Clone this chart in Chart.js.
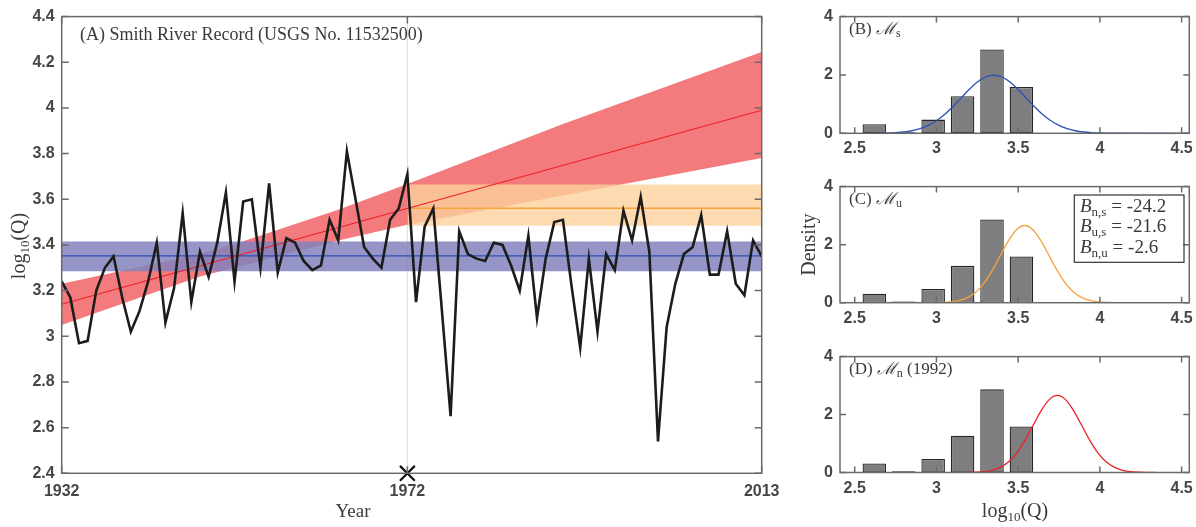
<!DOCTYPE html>
<html>
<head>
<meta charset="utf-8">
<script src="https://cdn.jsdelivr.net/npm/chart.js@4.4.1/dist/chart.umd.min.js"></script>
<style>
  html, body { margin: 0; padding: 0; background: #fff; width: 1196px; height: 527px; overflow: hidden; }
  canvas { position: absolute; }
</style>
</head>
<body>
<canvas id="main" width="800" height="527" style="left:0;top:0"></canvas>
<canvas id="pB" width="430" height="170" style="left:780px;top:0"></canvas>
<canvas id="pC" width="430" height="170" style="left:780px;top:170px"></canvas>
<canvas id="pD" width="430" height="187" style="left:780px;top:340px"></canvas>
<script>
// ---- Smith River annual peak record, log10(Q) ----
const years = [1932,1933,1934,1935,1936,1937,1938,1939,1940,1941,1942,1943,1944,1945,1946,1947,1948,1949,1950,1951,
  1952,1953,1954,1955,1956,1957,1958,1959,1960,1961,1962,1963,1964,1965,1966,1967,1968,1969,1970,1971,
  1972,1973,1974,1975,1976,1977,1978,1979,1980,1981,1982,1983,1984,1985,1986,1987,1988,1989,1990,1991,
  1992,1993,1994,1995,1996,1997,1998,1999,2000,2001,2002,2003,2004,2005,2006,2007,2008,2009,2010,2011,2012,2013];
const logQ = [3.24,3.17,2.97,2.98,3.20,3.30,3.35,3.17,3.02,3.11,3.24,3.41,3.06,3.21,3.54,3.15,3.37,3.26,3.41,3.63,
  3.24,3.59,3.60,3.30,3.67,3.28,3.43,3.41,3.33,3.29,3.31,3.51,3.42,3.81,3.60,3.39,3.34,3.30,3.51,3.56,
  3.71,3.15,3.48,3.56,3.11,2.65,3.46,3.36,3.34,3.33,3.41,3.40,3.31,3.20,3.44,3.08,3.34,3.50,3.51,3.22,
  2.95,3.34,3.02,3.36,3.29,3.55,3.42,3.61,3.37,2.54,3.04,3.23,3.36,3.39,3.53,3.27,3.27,3.46,3.23,3.18,3.42,3.35];

// stationary model M_s (mean and band)
const sYears = [1932, 2013];
const sMean  = [3.352, 3.352];
const sUpper = [3.415, 3.415];
const sLower = [3.285, 3.285];

// model M_u, held from the change year onward
const uYears = [1972, 2013];
const uMean  = [3.561, 3.561];
const uUpper = [3.665, 3.665];
const uLower = [3.484, 3.484];

// trend model M_n
const nYears = [1932, 2013];
const nMean  = [3.14, 3.99];
const nBandYears = [1932, 1948, 1953, 1964, 1972, 1990, 2013];
const nUpper = [3.23, 3.36, 3.416, 3.554, 3.667, 3.93, 4.245];
const nLower = [3.049, 3.262, 3.31, 3.419, 3.488, 3.617, 3.781];

const changeYear = [1972];
const changeMark = [2.4];

const xTickYears = [1932, 1972, 2013];
const yTicksMain = [2.4, 2.6, 2.8, 3.0, 3.2, 3.4, 3.6, 3.8, 4.0, 4.2, 4.4];

// ---- density panels ----
const binCenters = [2.62, 2.80, 2.98, 3.16, 3.34, 3.52];
const binDensity = [0.31, 0.04, 0.47, 1.27, 2.87, 1.59];
const histTicksX = [2.5, 3, 3.5, 4, 4.5];
const histTicksY = [0, 2, 4];

const pdfSx = [2.65,2.70,2.75,2.80,2.85,2.90,2.95,3.00,3.05,3.10,3.15,3.20,3.25,3.30,3.35,
  3.40,3.45,3.50,3.55,3.60,3.65,3.70,3.75,3.80,3.85,3.90,3.95,4.00,4.05,4.10,4.60];
const pdfSy = [0.004,0.010,0.022,0.045,0.087,0.158,0.269,0.430,0.646,0.911,1.207,1.502,1.756,1.929,1.990,
  1.929,1.756,1.502,1.207,0.911,0.646,0.430,0.269,0.158,0.087,0.045,0.022,0.010,0.004,0.001,0];

const pdfUx = [2.99,3.04,3.09,3.14,3.19,3.24,3.29,3.34,3.39,3.44,3.49,3.54,3.59,3.64,
  3.69,3.74,3.79,3.84,3.89,3.94,3.99,4.04,4.09,4.14,4.19,4.24,4.29,4.34];
const pdfUy = [0.003,0.010,0.030,0.076,0.175,0.360,0.663,1.094,1.613,2.130,2.516,2.660,2.516,2.130,
  1.613,1.094,0.663,0.360,0.175,0.076,0.030,0.010,0.003,0.001,0,0,0,0];

const pdfNx = [3.19,3.24,3.29,3.34,3.39,3.44,3.49,3.54,3.59,3.64,3.69,3.74,
  3.79,3.84,3.89,3.94,3.99,4.04,4.09,4.14,4.19,4.24,4.29,4.34];
const pdfNy = [0.003,0.010,0.030,0.076,0.175,0.360,0.663,1.094,1.613,2.130,2.516,2.660,
  2.516,2.130,1.613,1.094,0.663,0.360,0.175,0.076,0.030,0.010,0.003,0.001];

const bayesLines = [
  { sub: 'n,s', val: '-24.2' },
  { sub: 'u,s', val: '-21.6' },
  { sub: 'n,u', val: '-2.6' }
];

// ---- shared styling ----
const SANS = "'Liberation Sans', Arial, sans-serif";
const SERIF = "'Liberation Serif', 'DejaVu Serif', serif";
const TXT = '#3a3a3a';
Chart.defaults.font.family = SANS;
Chart.defaults.font.size = 16;
Chart.defaults.font.weight = 'bold';
Chart.defaults.color = '#464646';

const pt = (xs, ys) => xs.map((x, i) => ({ x: x, y: ys[i] }));

function drawRuns(ctx, runs, x, y, align) {
  let total = 0;
  runs.forEach(r => { ctx.font = r.font; r.w = ctx.measureText(r.text).width; total += r.w; });
  let cx = align === 'center' ? x - total / 2 : (align === 'right' ? x - total : x);
  ctx.textAlign = 'left';
  runs.forEach(r => { ctx.font = r.font; ctx.fillText(r.text, cx, y + (r.dy || 0)); cx += r.w; });
}

// box around the plot area with inward ticks on all four sides
function boxAxes(len) {
  return {
    id: 'boxAxes',
    afterDatasetsDraw(chart) {
      const { ctx, chartArea: a, scales } = chart;
      ctx.save();
      ctx.strokeStyle = '#6a6a6a';
      ctx.lineWidth = 1.5;
      ctx.strokeRect(a.left, a.top, a.right - a.left, a.bottom - a.top);
      ctx.beginPath();
      scales.x.ticks.forEach(t => {
        const p = scales.x.getPixelForValue(t.value);
        ctx.moveTo(p, a.bottom); ctx.lineTo(p, a.bottom - len);
        ctx.moveTo(p, a.top); ctx.lineTo(p, a.top + len);
      });
      scales.y.ticks.forEach(t => {
        const p = scales.y.getPixelForValue(t.value);
        ctx.moveTo(a.left, p); ctx.lineTo(a.left + len, p);
        ctx.moveTo(a.right, p); ctx.lineTo(a.right - len, p);
      });
      ctx.stroke();
      ctx.restore();
    }
  };
}

// ---- panel A ----
const changeLine = {
  id: 'changeLine',
  beforeDatasetsDraw(chart) {
    const { ctx, chartArea: a, scales } = chart;
    const x = scales.x.getPixelForValue(changeYear[0]);
    ctx.save();
    ctx.strokeStyle = '#dcdcdc';
    ctx.lineWidth = 1;
    ctx.beginPath(); ctx.moveTo(x, a.top); ctx.lineTo(x, a.bottom); ctx.stroke();
    ctx.restore();
  }
};

const mainText = {
  id: 'mainText',
  afterDraw(chart) {
    const ctx = chart.ctx;
    ctx.save();
    ctx.fillStyle = TXT;
    ctx.textBaseline = 'alphabetic';
    drawRuns(ctx, [{ text: '(A) Smith River Record (USGS No. 11532500)', font: '18px ' + SERIF }], 80, 40, 'left');
    drawRuns(ctx, [{ text: 'Year', font: '19px ' + SERIF }], 353, 516.5, 'center');
    ctx.translate(25, 246);
    ctx.rotate(-Math.PI / 2);
    drawRuns(ctx, [
      { text: 'log', font: '20px ' + SERIF },
      { text: '10', font: '13px ' + SERIF, dy: 4 },
      { text: '(Q)', font: '20px ' + SERIF }
    ], 0, 0, 'center');
    ctx.restore();
  }
};

const lineDs = (data, color, width, order) => ({
  data: data, borderColor: color, borderWidth: width, pointRadius: 0, fill: false, order: order, tension: 0
});
const bandDs = (data, color, fill, order) => ({
  data: data, borderWidth: 0, borderColor: 'rgba(0,0,0,0)', backgroundColor: color, pointRadius: 0,
  fill: fill, order: order, tension: 0
});

new Chart(document.getElementById('main'), {
  type: 'line',
  data: {
    datasets: [
      lineDs(pt(years, logQ), '#1c1c1c', 2.6, 0),
      { data: pt(changeYear, changeMark), showLine: false, pointStyle: 'crossRot', pointRadius: 10.5,
        pointBorderWidth: 2.2, pointBorderColor: '#111', pointBackgroundColor: '#111', clip: false, order: 0 },
      lineDs(pt(nYears, nMean), '#ee2026', 1.1, 1),
      lineDs(pt(uYears, uMean), '#f5a33c', 1.6, 1),
      lineDs(pt(sYears, sMean), '#2f4fb5', 1.3, 1),
      bandDs(pt(sYears, sUpper), 'rgba(131,131,190,0.85)', '+1', 5),
      bandDs(pt(sYears, sLower), 'rgba(0,0,0,0)', false, 5),
      bandDs(pt(uYears, uUpper), 'rgba(252,209,156,0.8)', '+1', 6),
      bandDs(pt(uYears, uLower), 'rgba(0,0,0,0)', false, 6),
      bandDs(pt(nBandYears, nUpper), 'rgba(236,52,56,0.65)', '+1', 7),
      bandDs(pt(nBandYears, nLower), 'rgba(0,0,0,0)', false, 7)
    ]
  },
  options: {
    responsive: false, animation: false, devicePixelRatio: 1,
    layout: { padding: { left: 0, right: 38.3, top: 13.3, bottom: 0 } },
    scales: {
      x: {
        type: 'linear', min: 1932, max: 2013,
        grid: { display: false, drawTicks: false }, border: { display: false },
        afterBuildTicks: s => { s.ticks = xTickYears.map(v => ({ value: v })); },
        ticks: { padding: 9, maxRotation: 0, autoSkip: false, callback: v => String(v) },
        afterFit: s => { s.height = 53.7; }
      },
      y: {
        type: 'linear', min: 2.4, max: 4.4,
        grid: { display: false, drawTicks: false }, border: { display: false },
        afterBuildTicks: s => { s.ticks = yTicksMain.map(v => ({ value: v })); },
        ticks: { padding: 7, autoSkip: false, callback: v => String(+Number(v).toFixed(1)) },
        afterFit: s => { s.width = 61.7; }
      }
    },
    plugins: { legend: { display: false }, tooltip: { enabled: false } }
  },
  plugins: [changeLine, boxAxes(7), mainText]
});

// ---- panels B, C, D ----
function histPanel(id, o) {
  const textPlugin = {
    id: 'panelText',
    afterDraw(chart) {
      const ctx = chart.ctx;
      const a = chart.chartArea;
      ctx.save();
      ctx.fillStyle = TXT;
      ctx.textBaseline = 'alphabetic';
      drawRuns(ctx, o.label, a.left + 9, a.top + 17.5, 'left');
      if (o.extra) o.extra(ctx, a);
      ctx.restore();
    }
  };
  return new Chart(document.getElementById(id), {
    type: 'bar',
    data: {
      datasets: [
        { type: 'line', data: pt(o.cx, o.cy), borderColor: o.color, borderWidth: 1.3, pointRadius: 0,
          cubicInterpolationMode: 'monotone', fill: false, order: 0 },
        { type: 'bar', data: pt(binCenters, binDensity), backgroundColor: '#7e7e81', borderColor: '#262626',
          borderWidth: 1.3, borderSkipped: false, barPercentage: 0.8, categoryPercentage: 1, order: 1 }
      ]
    },
    options: {
      responsive: false, animation: false, devicePixelRatio: 1,
      layout: { padding: { left: 0, right: 20.7, top: o.top, bottom: 0 } },
      scales: {
        x: {
          type: 'linear', min: 2.41, max: 4.547, offset: false,
          grid: { display: false, drawTicks: false }, border: { display: false },
          afterBuildTicks: s => { s.ticks = histTicksX.map(v => ({ value: v })); },
          ticks: { padding: 6, maxRotation: 0, autoSkip: false, callback: v => String(v) },
          afterFit: s => { s.height = o.xh; }
        },
        y: {
          type: 'linear', min: 0, max: 4,
          grid: { display: false, drawTicks: false }, border: { display: false },
          afterBuildTicks: s => { s.ticks = histTicksY.map(v => ({ value: v })); },
          ticks: { padding: 7, autoSkip: false, callback: v => String(v) },
          afterFit: s => { s.width = 60; }
        }
      },
      plugins: { legend: { display: false }, tooltip: { enabled: false } }
    },
    plugins: [boxAxes(6), textPlugin]
  });
}

const calM = (sub, extraText) => {
  const runs = [
    { text: '(' + sub.tag + ') ', font: '17px ' + SERIF },
    { text: '\u2133', font: 'italic 17px ' + SERIF },
    { text: sub.s, font: '12px ' + SERIF, dy: 3 }
  ];
  if (extraText) runs.push({ text: extraText, font: '17px ' + SERIF });
  return runs;
};

histPanel('pB', { cx: pdfSx, cy: pdfSy, color: '#2f4fb5', top: 11.7, xh: 36.7, label: calM({ tag: 'B', s: 's' }) });

histPanel('pC', {
  cx: pdfUx, cy: pdfUy, color: '#f5a33c', top: 11.7, xh: 37.3, label: calM({ tag: 'C', s: 'u' }),
  extra(ctx, a) {
    ctx.strokeStyle = '#333';
    ctx.lineWidth = 1.2;
    ctx.strokeRect(294.3, 25, 109.7, 67.3);
    bayesLines.forEach((b, i) => {
      drawRuns(ctx, [
        { text: 'B', font: 'italic 19px ' + SERIF },
        { text: b.sub, font: '13px ' + SERIF, dy: 4 },
        { text: ' = ' + b.val, font: '19px ' + SERIF }
      ], 300, 41.5 + i * 20.8, 'left');
    });
    ctx.save();
    ctx.translate(30, (a.top + a.bottom) / 2);
    ctx.rotate(-Math.PI / 2);
    ctx.textBaseline = 'middle';
    drawRuns(ctx, [{ text: 'Density', font: '20px ' + SERIF }], 0, 0, 'center');
    ctx.restore();
  }
});

histPanel('pD', {
  cx: pdfNx, cy: pdfNy, color: '#ee2026', top: 11, xh: 54.5, label: calM({ tag: 'D', s: 'n' }, ' (1992)'),
  extra(ctx, a) {
    drawRuns(ctx, [
      { text: 'log', font: '20px ' + SERIF },
      { text: '10', font: '13px ' + SERIF, dy: 4 },
      { text: '(Q)', font: '20px ' + SERIF }
    ], 235, 176.5, 'center');
  }
});
</script>
</body>
</html>
